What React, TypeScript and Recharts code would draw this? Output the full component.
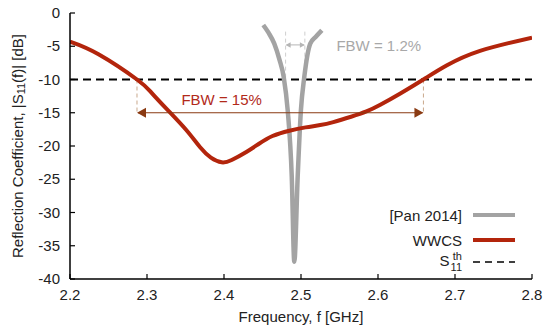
import React from "react";
import { LineChart, Line, XAxis, YAxis, ReferenceLine, ReferenceDot } from "recharts";

const xTicks = [2.2, 2.3, 2.4, 2.5, 2.6, 2.7, 2.8];
const yTicks = [0, -5, -10, -15, -20, -25, -30, -35, -40];

// WWCS measured response
const wwcsFreq = [
  2.2, 2.237, 2.287, 2.306, 2.327, 2.351, 2.369, 2.383, 2.397, 2.41, 2.429, 2.445, 2.463,
  2.485, 2.506, 2.525, 2.542, 2.565, 2.585, 2.603, 2.629, 2.659, 2.689, 2.7325, 2.8,
];
const wwcsS11 = [
  -4.3, -6.2, -10.0, -12.0, -14.6, -17.6, -20.2, -21.75, -22.45, -22.1, -20.9, -19.7, -18.5,
  -17.7, -17.2, -16.85, -16.4, -15.6, -14.8, -13.8, -12.1, -10.0, -7.9, -5.7, -3.7,
];

// [Pan 2014] narrowband response
const panFreq = [2.451, 2.458, 2.4653, 2.472, 2.4775, 2.4827, 2.488, 2.4913, 2.4957, 2.4999, 2.5043, 2.512, 2.519, 2.527];
const panS11 = [-1.8, -3.0, -4.6, -7.0, -9.6, -14.6, -24.6, -37.4, -24.6, -14.6, -9.6, -4.6, -3.6, -2.6];

const threshold = -10;
const wwcsBand = [2.287, 2.659];
const wwcsBandLevel = -15;
const panBand = [2.48, 2.505];
const panBandLevel = -4.8;

const wwcsData = wwcsFreq.map((f, i) => ({ f, s: wwcsS11[i] }));
const panData = panFreq.map((f, i) => ({ f, s: panS11[i] }));

const FONT = "'Liberation Sans', Arial, Helvetica, sans-serif";
const TICK = 5;
const RED = "#b3250c";
const GRAY = "#a3a3a3";

const BottomTick = (props: any) => {
  const { x, y, payload } = props;
  const base = y - 16;
  return (
    <g>
      <line x1={x} x2={x} y1={base} y2={base - TICK} stroke="#000" strokeWidth={1.2} />
      <text x={x} y={base + 21} textAnchor="middle" fontSize={15} fontFamily={FONT} fill="#222">
        {payload.value.toFixed(1)}
      </text>
    </g>
  );
};

const TopTick = (props: any) => {
  const { x, y } = props;
  return <line x1={x} x2={x} y1={y} y2={y + TICK} stroke="#000" strokeWidth={1.2} />;
};

const LeftTick = (props: any) => {
  const { x, y, payload } = props;
  const base = x + 10;
  return (
    <g>
      <line x1={base} x2={base + TICK} y1={y} y2={y} stroke="#000" strokeWidth={1.2} />
      <text x={x} y={y + 5} textAnchor="end" fontSize={15} fontFamily={FONT} fill="#222">
        {payload.value}
      </text>
    </g>
  );
};

const RightTick = (props: any) => {
  const { x, y } = props;
  return <line x1={x} x2={x - TICK} y1={y} y2={y} stroke="#000" strokeWidth={1.2} />;
};

const YLabel = (props: any) => {
  const vb = props.viewBox || { x: 0, y: 13, width: 70, height: 266 };
  const cx = 17;
  const cy = vb.y + vb.height / 2;
  return (
    <text
      x={cx}
      y={cy}
      transform={`rotate(-90 ${cx} ${cy})`}
      textAnchor="middle"
      dominantBaseline="central"
      fontSize={15}
      fontFamily={FONT}
      fill="#222"
    >
      Reflection Coefficient, |S
      <tspan fontSize={11} dy={4}>11</tspan>
      <tspan dy={-4}>(f)| [dB]</tspan>
    </text>
  );
};

const arrowShape = (color: string, width: number, head: number) => (props: any) => {
  const { x1, y1, x2, y2 } = props;
  if (x1 == null) return null;
  const h = head;
  const w = head * 0.55;
  return (
    <g>
      <line x1={x1 + 1} y1={y1} x2={x2 - 1} y2={y2} stroke={color} strokeWidth={width} />
      <polygon points={`${x1},${y1} ${x1 + h},${y1 - w} ${x1 + h},${y1 + w}`} fill={color} />
      <polygon points={`${x2},${y2} ${x2 - h},${y2 - w} ${x2 - h},${y2 + w}`} fill={color} />
    </g>
  );
};

const legendRow = (top: number, label: React.ReactNode, line: React.ReactNode) => (
  <div style={{ position: "absolute", top, left: 300, width: 216, height: 20, display: "flex", alignItems: "center" }}>
    <div style={{ flex: 1, textAlign: "right", paddingRight: 11, fontSize: 15, color: "#222", fontFamily: FONT }}>{label}</div>
    <svg width={43} height={20}>{line}</svg>
  </div>
);

export default function App() {
  return (
    <div style={{ position: "absolute", left: 0, top: 0, width: 550, height: 331, background: "#fff" }}>
      <LineChart width={550} height={331} margin={{ top: 13, right: 18, bottom: 0, left: 0 }}>
        <XAxis
          dataKey="f"
          type="number"
          domain={[2.2, 2.8]}
          ticks={xTicks}
          height={52}
          tickSize={0}
          tickMargin={16}
          tickLine={false}
          tick={<BottomTick />}
          axisLine={{ stroke: "#000", strokeWidth: 1.5 }}
          allowDataOverflow
          label={{ value: "Frequency, f [GHz]", position: "insideBottom", offset: 9, fontSize: 15, fontFamily: FONT, fill: "#222" }}
        />
        <XAxis
          xAxisId="top"
          orientation="top"
          dataKey="f"
          type="number"
          domain={[2.2, 2.8]}
          ticks={xTicks}
          height={0}
          tickSize={0}
          tickMargin={0}
          tickLine={false}
          tick={<TopTick />}
          axisLine={{ stroke: "#000", strokeWidth: 1.5 }}
        />
        <YAxis
          type="number"
          domain={[-40, 0]}
          ticks={yTicks}
          width={70}
          tickSize={0}
          tickMargin={10}
          tickLine={false}
          tick={<LeftTick />}
          axisLine={{ stroke: "#000", strokeWidth: 1.5 }}
          allowDataOverflow
          label={<YLabel />}
        />
        <YAxis
          yAxisId="r"
          orientation="right"
          type="number"
          domain={[-40, 0]}
          ticks={yTicks}
          width={0}
          tickSize={0}
          tickMargin={0}
          tickLine={false}
          tick={<RightTick />}
          axisLine={{ stroke: "#000", strokeWidth: 1.5 }}
        />

        <ReferenceLine y={threshold} stroke="#000" strokeWidth={2} strokeDasharray="8 5" />

        <ReferenceLine
          segment={[{ x: wwcsBand[0], y: threshold }, { x: wwcsBand[0], y: wwcsBandLevel }]}
          stroke="#c9a88c"
          strokeDasharray="4 3"
          strokeWidth={1}
        />
        <ReferenceLine
          segment={[{ x: wwcsBand[1], y: threshold }, { x: wwcsBand[1], y: wwcsBandLevel }]}
          stroke="#c9a88c"
          strokeDasharray="4 3"
          strokeWidth={1}
        />
        <ReferenceLine
          segment={[{ x: panBand[0], y: -2.8 }, { x: panBand[0], y: threshold }]}
          stroke="#cfcfcf"
          strokeDasharray="4 3"
          strokeWidth={1}
        />
        <ReferenceLine
          segment={[{ x: panBand[1], y: -2.8 }, { x: panBand[1], y: threshold }]}
          stroke="#cfcfcf"
          strokeDasharray="4 3"
          strokeWidth={1}
        />

        <Line
          data={panData}
          dataKey="s"
          type="monotone"
          stroke={GRAY}
          strokeWidth={4.5}
          dot={false}
          isAnimationActive={false}
        />
        <Line
          data={wwcsData}
          dataKey="s"
          type="natural"
          stroke={RED}
          strokeWidth={4}
          dot={false}
          isAnimationActive={false}
        />

        <ReferenceLine
          segment={[{ x: wwcsBand[0], y: wwcsBandLevel }, { x: wwcsBand[1], y: wwcsBandLevel }]}
          shape={arrowShape("#8a3a12", 1.2, 9)}
        />
        <ReferenceLine
          segment={[{ x: panBand[0], y: panBandLevel }, { x: panBand[1], y: panBandLevel }]}
          shape={arrowShape("#b5b5b5", 1, 5)}
        />

        <ReferenceDot
          x={2.397}
          y={-13.1}
          r={1}
          fillOpacity={0}
          stroke="none"
          label={{ value: "FBW = 15%", position: "center", fontSize: 15, fontFamily: FONT, fill: "#b22a1a" }}
        />
        <ReferenceDot
          x={2.601}
          y={-4.96}
          r={1}
          fillOpacity={0}
          stroke="none"
          label={{ value: "FBW = 1.2%", position: "center", fontSize: 15, fontFamily: FONT, fill: "#a8a8a8" }}
        />
      </LineChart>

      {legendRow(205, "[Pan 2014]", <line x1={0} x2={42} y1={10} y2={10} stroke={GRAY} strokeWidth={4} />)}
      {legendRow(230, "WWCS", <line x1={0} x2={42} y1={10} y2={10} stroke={RED} strokeWidth={4} />)}
      {legendRow(
        252,
        <span>
          S
          <span style={{ display: "inline-flex", flexDirection: "column", verticalAlign: "middle", fontSize: 11, lineHeight: "11px", marginLeft: 1 }}>
            <span>th</span>
            <span>11</span>
          </span>
        </span>,
        <line x1={0} x2={42} y1={10} y2={10} stroke="#000" strokeWidth={1.5} strokeDasharray="7 5" />
      )}
    </div>
  );
}
